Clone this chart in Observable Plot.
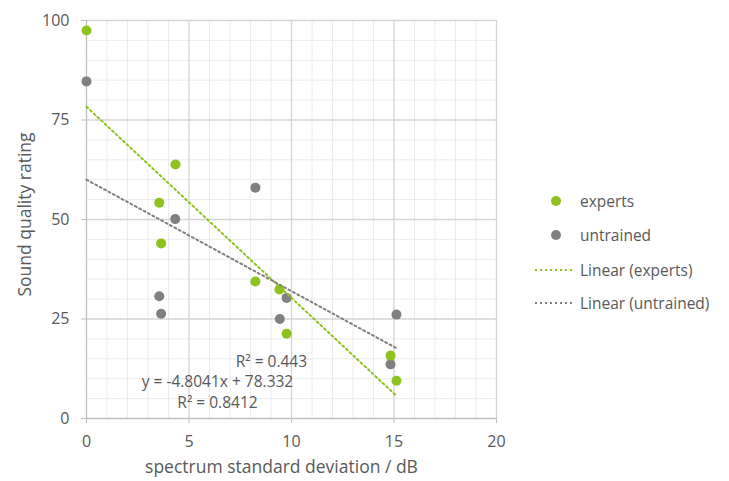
<!DOCTYPE html>
<html><head><meta charset="utf-8">
<script src="https://cdn.jsdelivr.net/npm/d3@7"></script>
<script src="https://cdn.jsdelivr.net/npm/@observablehq/plot@0.6"></script>
<style>
body{margin:0;background:#fff;font-family:"Open Sans",sans-serif;}
#wrap{position:relative;width:729px;height:481px;}
#legend{position:absolute;left:0;top:0;width:729px;height:481px;pointer-events:none;}
.lg{position:absolute;left:580px;font-size:15.5px;color:#595959;line-height:20px;transform:translateY(-50%);white-space:nowrap;}
</style></head>
<body><div id="wrap"></div>
<script>
// data
const expertsX = [0, 4.34, 3.55, 3.64, 8.24, 9.41, 9.76, 14.83, 15.12];
const expertsY = [97.5, 63.8, 54.2, 44.0, 34.4, 32.4, 21.3, 15.8, 9.5];
const untrainedX = [0, 4.33, 8.24, 3.55, 3.64, 9.43, 9.76, 15.12, 14.83];
const untrainedY = [84.7, 50.1, 58.0, 30.7, 26.3, 25.0, 30.3, 26.1, 13.6];
const trendExperts = {slope: -4.8041, intercept: 78.332, x0: 0, x1: 15.12};
const trendUntrained = {slope: -2.8, intercept: 60.0, x0: 0, x1: 15.1};
const annotations = [
  {x: 9.02, y: 14.1, text: "R² = 0.443"},
  {x: 6.39, y: 9.05, text: "y = -4.8041x + 78.332"},
  {x: 6.39, y: 3.77, text: "R² = 0.8412"}
];
const xMajor = [0, 5, 10, 15, 20];
const yMajor = [0, 25, 50, 75, 100];
const xMinor = [1,2,3,4,6,7,8,9,11,12,13,14,16,17,18,19];
const yMinor = [5,10,15,20,30,35,40,45,55,60,65,70,80,85,90,95];
const seriesNames = ["experts", "untrained", "Linear (experts)", "Linear (untrained)"];

const green = "#8dc21f", gray = "#808080", txt = "#595959";
const ptsE = expertsX.map((x,i)=>({x, y: expertsY[i]}));
const ptsU = untrainedX.map((x,i)=>({x, y: untrainedY[i]}));
const lineOf = t => [t.x0, t.x1].map(x => ({x, y: t.slope*x + t.intercept}));

const chart = Plot.plot({
  width: 729, height: 481,
  marginLeft: 86, marginRight: 233, marginTop: 20, marginBottom: 63,
  style: {fontFamily: "Open Sans, sans-serif", fontSize: "16px", color: txt, background: "#fff"},
  x: {domain: [0, 20]},
  y: {domain: [0, 100]},
  marks: [
    Plot.ruleX(xMinor, {stroke: "#ececec", strokeWidth: 1}),
    Plot.ruleY(yMinor, {stroke: "#ececec", strokeWidth: 1}),
    Plot.ruleX(xMajor.slice(1), {stroke: "#d4d4d4", strokeWidth: 1.3}),
    Plot.ruleY(yMajor.slice(1), {stroke: "#d4d4d4", strokeWidth: 1.3}),
    Plot.ruleX([0], {stroke: "#bfbfbf", strokeWidth: 1.3}),
    Plot.ruleY([0], {stroke: "#bfbfbf", strokeWidth: 1.3}),
    Plot.axisX({ticks: xMajor, tickSize: 5, tickPadding: 12, stroke: "#bfbfbf", fill: txt, fontSize: 16, label: null}),
    Plot.axisY({ticks: yMajor, tickSize: 5, tickPadding: 12, stroke: "#bfbfbf", fill: txt, fontSize: 16, label: null}),
    Plot.text(["spectrum standard deviation / dB"], {frameAnchor: "bottom", lineAnchor: "middle", textAnchor: "middle", dy: 49, dx: -10, fontSize: 17.5, fill: txt}),
    Plot.text(["Sound quality rating"], {frameAnchor: "left", lineAnchor: "middle", textAnchor: "middle", rotate: -90, dx: -61, dy: -5, fontSize: 17.5, fill: txt}),
    Plot.dot(ptsU, {x: "x", y: "y", r: 5, fill: gray}),
    Plot.dot(ptsE, {x: "x", y: "y", r: 5, fill: green}),
    Plot.line(lineOf(trendExperts), {x: "x", y: "y", stroke: green, strokeWidth: 2, strokeDasharray: "2,3"}),
    Plot.line(lineOf(trendUntrained), {x: "x", y: "y", stroke: gray, strokeWidth: 2, strokeDasharray: "2,3"}),
    Plot.text(annotations, {x: "x", y: "y", text: "text", fontSize: 15.5, fill: txt})
  ]
});
const wrap = document.getElementById("wrap");
wrap.appendChild(chart);

// legend overlay
const lg = document.createElement("div");
lg.id = "legend";
const rows = [
  {name: seriesNames[0], y: 201, color: green, type: "dot"},
  {name: seriesNames[1], y: 235, color: gray, type: "dot"},
  {name: seriesNames[2], y: 270, color: green, type: "line"},
  {name: seriesNames[3], y: 303, color: gray, type: "line"}
];
let svg = `<svg width="729" height="481" style="position:absolute;left:0;top:0">`;
rows.forEach(r => {
  if (r.type === "dot") svg += `<circle cx="556" cy="${r.y}" r="5" fill="${r.color}"/>`;
  else svg += `<line x1="535" x2="574" y1="${r.y}" y2="${r.y}" stroke="${r.color}" stroke-width="2" stroke-dasharray="2,3"/>`;
});
svg += `</svg>`;
lg.innerHTML = svg + rows.map(r => `<div class="lg" style="top:${r.y}px">${r.name}</div>`).join("");
wrap.appendChild(lg);
</script></body></html>
